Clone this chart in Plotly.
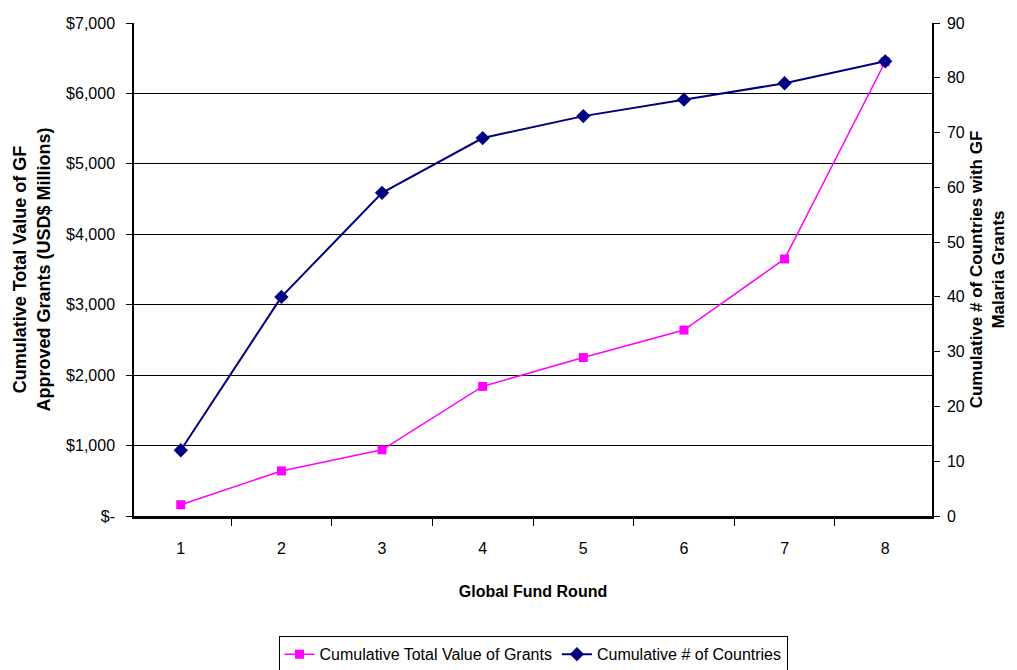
import plotly.graph_objects as go

rounds = ["1", "2", "3", "4", "5", "6", "7", "8"]
total_value = [160, 640, 940, 1840, 2250, 2640, 3650, 6450]
num_countries = [12, 40, 59, 69, 73, 76, 79, 83]

left_ticks = [0, 1000, 2000, 3000, 4000, 5000, 6000, 7000]
left_ticktext = ["$-", "$1,000", "$2,000", "$3,000", "$4,000", "$5,000", "$6,000", "$7,000"]
right_ticks = [0, 10, 20, 30, 40, 50, 60, 70, 80, 90]

narrow = "Liberation Sans Narrow, Arial Narrow, Liberation Sans, Arial"
boldf = "Liberation Sans, Arial"

fig = go.Figure()
fig.add_trace(go.Scatter(
    x=rounds, y=total_value, name="Cumulative Total Value of Grants",
    mode="lines+markers", line=dict(color="#FF00FF", width=1.5),
    marker=dict(symbol="square", size=9, color="#FF00FF"), yaxis="y"))
fig.add_trace(go.Scatter(
    x=rounds, y=num_countries, name="Cumulative # of Countries",
    mode="lines+markers", line=dict(color="#000080", width=2),
    marker=dict(symbol="diamond", size=11, color="#000080"), yaxis="y2"))

# page body adds an 8px margin; size the figure to fit the 1017x670 window
fig.update_layout(
    width=1009, height=662,
    margin=dict(l=126, r=85, t=15, b=154),
    paper_bgcolor="white", plot_bgcolor="white",
    font=dict(family=narrow, size=16, color="black"),
    showlegend=True,
    legend=dict(orientation="h", xref="paper", x=0.5, xanchor="center",
                yref="container", y=0.051, yanchor="top",
                bordercolor="black", borderwidth=1, font=dict(family=narrow, size=16),
                traceorder="normal"),
    xaxis=dict(type="category", showline=True, linecolor="black", linewidth=2.5,
               mirror=False, ticks="outside", tickson="boundaries", ticklen=7,
               tickcolor="black", showgrid=False, automargin=False,
               ticklabelstandoff=16,
               tickfont=dict(family=narrow, size=16),
               title=dict(text="Global Fund Round", font=dict(family=boldf, size=16, weight="bold"),
                          standoff=30)),
    yaxis=dict(range=[0, 7000], tickvals=left_ticks, ticktext=left_ticktext,
               showline=True, linecolor="black", linewidth=1.5, ticks="outside",
               ticklen=6, tickcolor="black", showgrid=True, gridcolor="black", gridwidth=1,
               zeroline=False, automargin=False, ticklabelstandoff=8,
               tickfont=dict(family=narrow, size=16),
               title=dict(text="Cumulative Total Value of GF<br>Approved Grants (USD$ Millions)",
                          font=dict(family=boldf, size=18, weight="bold"), standoff=11)),
    yaxis2=dict(range=[0, 90], tickvals=right_ticks, overlaying="y", side="right",
                showline=True, linecolor="black", linewidth=1.5, ticks="outside",
                ticklen=6, tickcolor="black", showgrid=False, zeroline=False,
                automargin=False, ticklabelstandoff=4,
                tickfont=dict(family=narrow, size=16),
                title=dict(text="Cumulative # of Countries with GF<br>Malaria Grants",
                           font=dict(family=boldf, size=17, weight="bold"), standoff=6)),
)

fig.write_html("out.html")
